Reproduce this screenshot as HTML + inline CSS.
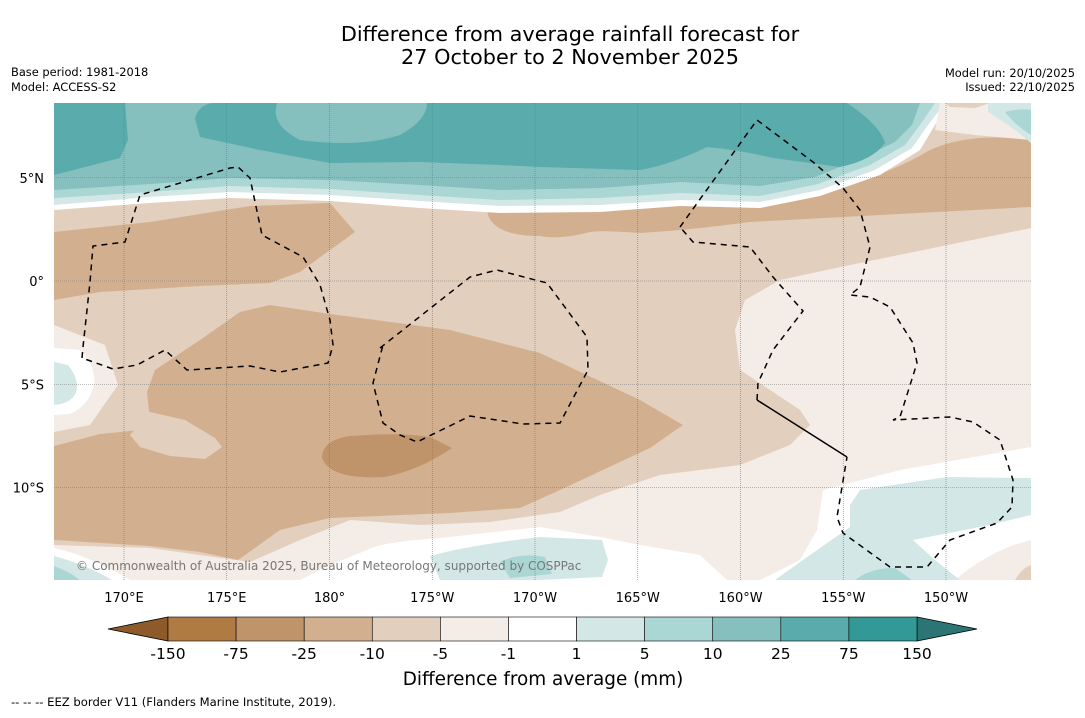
<!DOCTYPE html>
<html><head><meta charset="utf-8"><style>
body{margin:0;background:#fff;width:1085px;height:713px;overflow:hidden;font-family:"Liberation Sans","DejaVu Sans",sans-serif}
svg text{font-family:"DejaVu Sans","Liberation Sans",sans-serif}
</style></head><body>
<svg id="s" width="1085" height="713" xmlns="http://www.w3.org/2000/svg">
<text x="570" y="41" font-size="20.8" text-anchor="middle">Difference from average rainfall forecast for</text>
<text x="570" y="64" font-size="20.8" text-anchor="middle">27 October to 2 November 2025</text>
<text x="11" y="76" font-size="11.4">Base period: 1981-2018</text>
<text x="11" y="91" font-size="11.4">Model: ACCESS-S2</text>
<text x="1075" y="77" font-size="11.4" text-anchor="end">Model run: 20/10/2025</text>
<text x="1075" y="91" font-size="11.4" text-anchor="end">Issued: 22/10/2025</text>
<defs><clipPath id="mc"><rect x="54" y="103" width="977" height="477"/></clipPath></defs>
<g clip-path="url(#mc)" stroke="none">
<rect x="54" y="103" width="977" height="477" fill="#f4ece6"/>
<path fill="#e3cfbd" d="M54,103 L1031,103 L1031,228 L850,265 L780,280 L745,300 L735,330 L740,370 L800,410 L810,425 L790,445 L740,465 L660,475 L600,495 L560,512 L490,522 L420,525 L350,520 L300,540 L250,562 L200,555 L150,548 L54,545 L54,432 L90,425 L118,385 L105,345 L54,325 Z"/>
<path fill="#d2b08f" d="M54,232 L150,222 L250,206 L330,203 L355,232 L330,250 L300,272 L270,283 L200,286 L100,292 L54,300 Z"/>
<path fill="#d2b08f" d="M487,210 Q495,195 540,196 Q575,198 600,205 Q640,195 700,187 Q760,178 820,188 Q880,180 930,150 Q970,132 1031,140 L1031,207 Q880,215 750,222 Q690,230 640,233 Q600,230 590,232 Q560,240 540,236 Q490,236 487,210 Z"/>
<path fill="#d2b08f" d="M147,392 L155,370 L200,340 L240,312 L270,305 L330,314 L450,330 L540,353 L640,400 L683,425 L650,448 L560,490 L520,508 L450,513 L330,518 L280,530 L238,560 L200,552 L150,546 L54,540 L54,446 L100,434 L150,429 L205,428 L222,446 L205,459 L160,455 L130,448 L150,420 Z"/>
<path fill="#e3cfbd" d="M150,412 L185,420 L215,438 L222,447 L205,459 L170,456 L140,447 L130,435 Z"/>
<path fill="#c0946a" d="M322,458 Q322,440 350,436 Q400,432 430,437 L452,448 Q420,470 385,477 Q330,480 322,458 Z"/>
<path fill="#fff" d="M54,348 L80,350 Q96,365 94,384 Q90,405 70,414 L54,415 Z"/>
<path fill="#d3e8e6" d="M54,362 L68,365 Q80,380 76,393 Q70,404 54,405 Z"/>
<path fill="#fff" d="M54,103 L950,103 L935,125 L920,150 L880,175 L820,196 L760,208 L680,206 L600,212 L500,213 L420,208 L330,201 L230,198 L150,203 L54,210 Z"/>
<path fill="#d3e8e6" d="M54,103 L945,103 L928,125 L912,148 L875,170 L820,190 L760,202 L680,200 L600,205 L500,206 L420,201 L330,195 L230,192 L150,197 L54,205 Z"/>
<path fill="#aad6d4" d="M54,103 L935,103 L920,125 L905,145 L870,165 L818,184 L760,196 L680,193 L600,198 L500,200 L420,195 L330,189 L230,186 L150,192 L54,198 Z"/>
<path fill="#85bfbe" d="M54,103 L920,103 L912,125 L895,142 L862,158 L815,177 L760,186 L680,182 L600,188 L500,190 L420,185 L330,180 L230,178 L150,184 L54,190 Z"/>
<path fill="#5aabac" d="M54,103 L125,103 L128,140 L120,158 L54,175 Z"/>
<path fill="#5aabac" d="M195,118 Q200,103 215,103 L277,103 Q270,125 300,140 Q360,148 400,135 Q427,120 427,103 L847,103 Q880,125 885,143 Q873,160 840,167 L773,158 Q740,150 707,147 Q670,165 640,170 L540,167 L500,165 L420,162 L330,163 L260,150 L200,137 Z"/>
<path fill="#f4ece6" d="M940,103 L1031,103 L1031,140 L975,135 L935,130 Z"/>
<path fill="#e3cfbd" d="M945,103 L990,103 L975,108 L950,107 Z"/>
<path fill="#d3e8e6" d="M988,103 L1031,103 L1031,143 Q1010,125 988,112 Z"/>
<path fill="#aad6d4" d="M1005,112 Q1020,108 1031,110 L1031,135 Q1015,125 1005,112 Z"/>
<path fill="#fff" d="M367,550 Q380,542 440,538 L540,527 L600,537 L640,545 L700,555 L727,580 L300,580 L330,565 Z"/>
<path fill="#fff" d="M1031,447 L900,470 L823,490 L817,530 L800,560 L760,580 L1031,580 Z"/>
<path fill="#f4ece6" d="M955,580 Q990,550 1031,540 L1031,580 Z"/>
<path fill="#e3cfbd" d="M1015,580 Q1022,568 1031,565 L1031,580 Z"/>
<path fill="#d3e8e6" d="M860,490 L947,477 L1031,478 L1031,515 L990,525 L913,540 L935,560 L960,580 L775,580 L800,562 L850,527 L850,505 Z"/>
<path fill="#aad6d4" d="M855,580 Q870,568 895,568 L912,580 Z"/>
<path fill="#d3e8e6" d="M430,556 Q470,545 540,537 L602,540 L608,560 L602,577 L540,580 L440,580 Z"/>
<path fill="#aad6d4" d="M500,562 Q520,552 545,557 L552,574 L510,578 Z"/>
<path fill="#fff" d="M54,548 Q90,556 130,580 L54,580 Z"/>
<path fill="#d3e8e6" d="M54,556 Q85,564 112,580 L54,580 Z"/>
<path fill="#aad6d4" d="M54,566 Q70,572 80,580 L54,580 Z"/>
</g>
<g id="grid"></g>
<g fill="none" stroke="#000" stroke-width="1.5" stroke-dasharray="6,5">
<polyline points="82,358 83,347 90,282 93,246 125,242 140,195 230,168 238,167 250,178 262,235 303,257 320,285 330,320 333,345 328,363 280,372 250,366 187,370 165,350 137,365 113,369 82,358"/>
<polyline points="380,348 470,277 497,270 547,283 587,337 588,370 560,423 523,424 470,416 417,442 400,435 383,423 373,383 383,345"/>
<polyline points="680,227 757,120 813,162 843,188 860,210 870,247 860,287 850,295 870,297 890,307 913,343 917,363 900,417 893,420 950,417 973,422 1000,440 1013,480 1012,507 997,523 950,540 927,567 890,567 843,533 837,517 847,457"/>
<polyline points="757,400 758,383 773,350 803,311 773,277 750,247 693,242 680,227"/>
<polyline stroke-dasharray="none" points="757,400 847,457"/>
</g>
<text x="76" y="570" font-size="12" fill="#777">© Commonwealth of Australia 2025, Bureau of Meteorology, supported by COSPPac</text>
<g id="axes"></g>
<g id="cbar"></g>
<text x="543" y="685" font-size="18.4" text-anchor="middle">Difference from average (mm)</text>
<text x="11" y="706" font-size="11.6">-- -- -- EEZ border V11 (Flanders Marine Institute, 2019).</text>
</svg>
<script>
const lonLabels=["170°E","175°E","180°","175°W","170°W","165°W","160°W","155°W","150°W"];
const lonVals=[170,175,180,185,190,195,200,205,210];
const latLabels=["5°N","0°","5°S","10°S"];
const latVals=[5,0,-5,-10];
const levels=["-150","-75","-25","-10","-5","-1","1","5","10","25","75","150"];
const colors=["#b07a43","#c0946a","#d2b08f","#e3cfbd","#f4ece6","#ffffff","#d3e8e6","#aad6d4","#85bfbe","#5aabac","#329997"];
const extMin="#8e5a2a", extMax="#2b7674";
const NS="http://www.w3.org/2000/svg";
const xOf=l=>124+(l-170)*20.55;
const yOf=v=>281-v*20.65;
function mk(t,a,p){const e=document.createElementNS(NS,t);for(const k in a)e.setAttribute(k,a[k]);p.appendChild(e);return e;}
const g=document.getElementById('grid'),ax=document.getElementById('axes'),cb=document.getElementById('cbar');
lonVals.forEach((l,i)=>{const x=xOf(l);
 const ln=mk('line',{x1:x,x2:x,y1:103,y2:580,stroke:'#777','stroke-width':0.6,'stroke-dasharray':'1,1'},g);
 
 
 const t=mk('text',{x:x,y:602,'font-size':13,'text-anchor':'middle'},ax);t.textContent=lonLabels[i];
 
 });
latVals.forEach((v,i)=>{const y=yOf(v);
 const ln=mk('line',{x1:54,x2:1031,y1:y,y2:y,stroke:'#777','stroke-width':0.6,'stroke-dasharray':'1,1'},g);
 
 
 const t=mk('text',{x:44,y:y+5,'font-size':13,'text-anchor':'end'},ax);t.textContent=latLabels[i];
 
 });
const cx0=168,cx1=917,cy=617,ch=24,w=(cx1-cx0)/colors.length;
const a1=mk('polygon',{points:`${cx0},${cy} 108,${cy+ch/2} ${cx0},${cy+ch}`,fill:extMin,stroke:'#000','stroke-width':0.8},cb);


const a2=mk('polygon',{points:`${cx1},${cy} 977,${cy+ch/2} ${cx1},${cy+ch}`,fill:extMax,stroke:'#000','stroke-width':0.8},cb);


colors.forEach((c,i)=>{const r=mk('rect',{x:cx0+i*w,y:cy,width:w,height:ch,fill:c,stroke:'#000','stroke-width':0.6},cb);
 
 });
levels.forEach((l,i)=>{const t=mk('text',{x:cx0+i*w,y:659,'font-size':15.5,'text-anchor':'middle'},cb);t.textContent=l;
 
 });
</script>
</body></html>
